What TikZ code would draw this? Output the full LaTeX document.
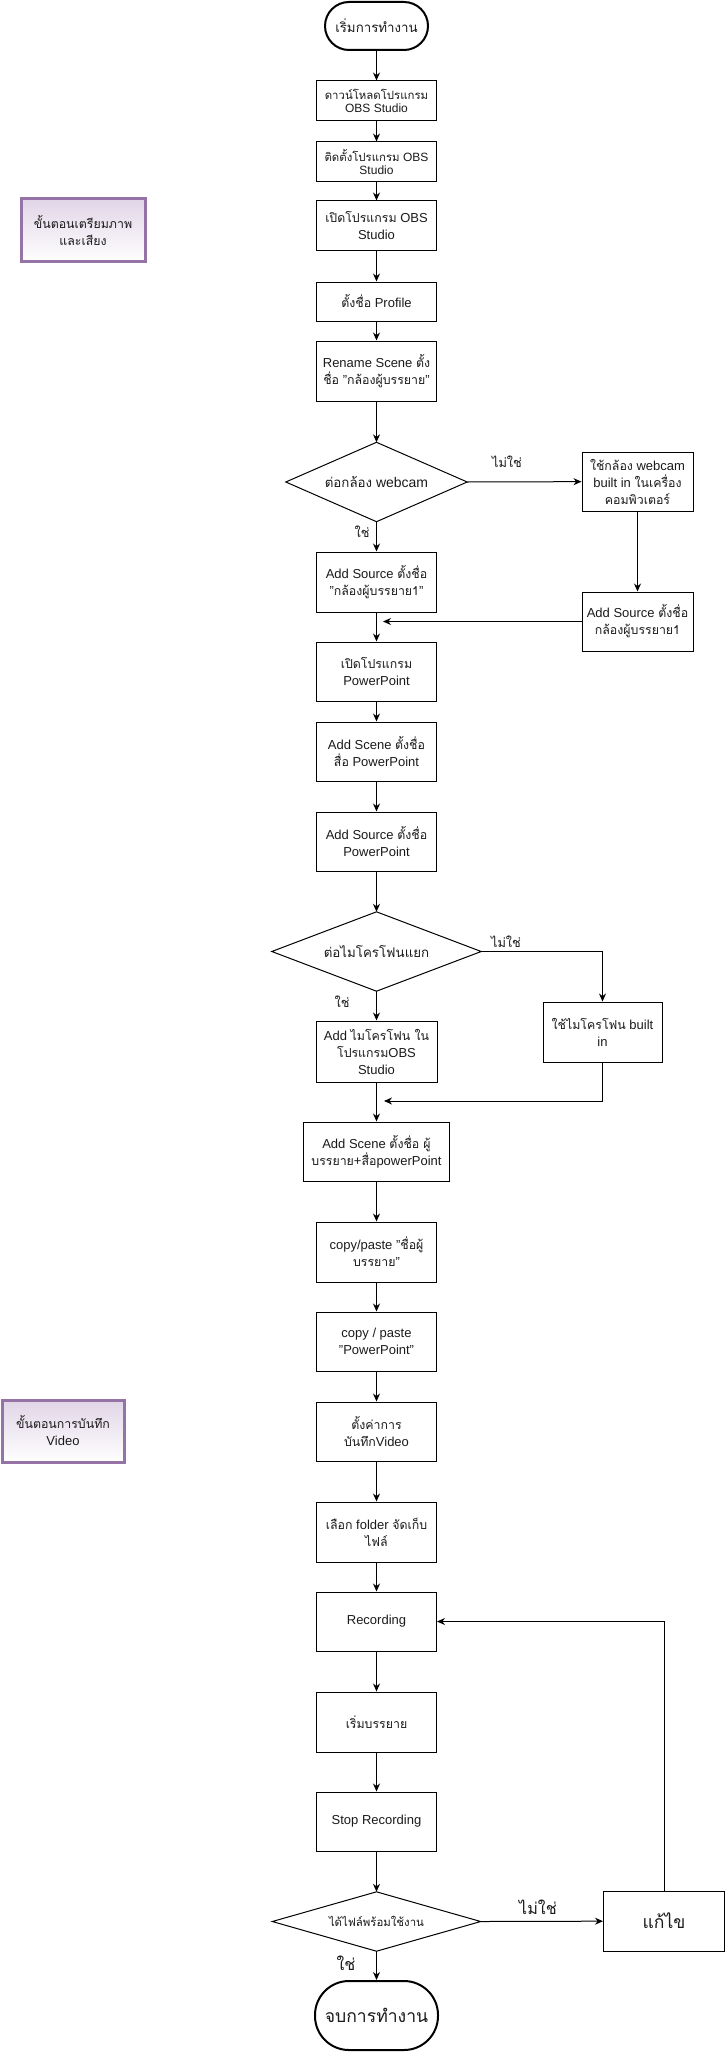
\documentclass[tikz,border=0pt]{standalone}
\usepackage{fontspec}
\setmainfont{Liberation Sans}
\newfontfamily\thaif[Script=Thai,Scale=0.95]{Loma}
\newcommand\thai[1]{{\thaif #1}}
\usetikzlibrary{shapes.geometric,arrows.meta}
\definecolor{purp}{HTML}{9673A6}
\definecolor{lav}{HTML}{E1D5E7}
\definecolor{txt}{HTML}{1A1A1A}
\begin{document}
\begin{tikzpicture}[x=1pt,y=-1pt,
  box/.style={draw, line width=1pt, minimum width=120pt, minimum height=60pt, inner sep=1pt, align=center, text=txt, font=\fontsize{13}{17}\selectfont},
  smallbox/.style={box, font=\fontsize{12}{13.5}\selectfont},
  term/.style={draw, line width=2pt, inner sep=1pt, align=center, text=txt},
  dia/.style={rectangle, inner sep=0pt, align=center, text=txt, font=\fontsize{14}{17}\selectfont},
  diaframe/.style={line width=1pt, line join=miter},
  arr/.style={-{Stealth[length=8pt,width=7pt]}, line width=1pt},
  lbl/.style={inner sep=0pt, text=txt, font=\fontsize{13.5}{15}\selectfont},
  biglbl/.style={inner sep=0pt, text=txt, font=\fontsize{17}{19}\selectfont},
  side/.style={draw=purp, line width=3pt, top color=lav, bottom color=white, align=center, inner sep=1pt, text=txt, font=\fontsize{13}{17}\selectfont}
]
\useasboundingbox (0,0) rectangle (725,2052);

% side boxes
\node[side, minimum width=124pt, minimum height=63pt] (s1) at (83,230.5) {\thai{ขั้นตอนเตรียมภาพ}\\\thai{และเสียง}};
\node[side, minimum width=122pt, minimum height=62pt] (s2) at (63,1431) {\thai{ขั้นตอนการบันทึก}\\Video};

% main column
\node[term, minimum width=103pt, minimum height=48pt, rounded corners=24pt, font=\fontsize{14}{16}\selectfont] (start) at (376.5,26) {\thai{เริ่มการทำงาน}};
\node[smallbox, minimum height=40pt] (b1) at (376.5,101) {\thai{ดาวน์โหลดโปรแกรม}\\OBS Studio};
\node[smallbox, minimum height=40pt] (b2) at (376.5,162) {\thai{ติดตั้งโปรแกรม} OBS\\Studio};
\node[box, minimum height=50pt] (b3) at (376.5,226) {\thai{เปิดโปรแกรม} OBS\\Studio};
\node[box, minimum height=39pt] (b4) at (376.5,301.5) {\thai{ตั้งชื่อ} Profile};
\node[box] (b5) at (376.5,371) {Rename Scene \thai{ตั้ง}\\\thai{ชื่อ} "\thai{กล้องผู้บรรยาย}"};
\node[dia, minimum width=181pt, minimum height=79pt] (d1) at (376.5,482) {\thai{ต่อกล้อง} webcam};
\draw[diaframe] (d1.north) -- (d1.east) -- (d1.south) -- (d1.west) -- cycle;
\node[box, minimum width=111pt, minimum height=59pt] (r1) at (637.5,481.5) {\thai{ใช้กล้อง} webcam\\built in \thai{ในเครื่อง}\\\thai{คอมพิวเตอร์}};
\node[box] (b6) at (376.5,582) {Add Source \thai{ตั้งชื่อ}\\"\thai{กล้องผู้บรรยาย1}"};
\node[box, minimum width=111pt, minimum height=59pt] (r2) at (637.5,621.5) {Add Source \thai{ตั้งชื่อ}\\\thai{กล้องผู้บรรยาย1}};
\node[box, minimum height=59pt] (b7) at (376.5,671.5) {\thai{เปิดโปรแกรม}\\PowerPoint};
\node[box, minimum height=59pt] (b8) at (376.5,751.5) {Add Scene \thai{ตั้งชื่อ}\\\thai{สื่อ} PowerPoint};
\node[box, minimum height=59pt] (b9) at (376.5,841.5) {Add Source \thai{ตั้งชื่อ}\\PowerPoint};
\node[dia, minimum width=209pt, minimum height=79pt] (d2) at (376.5,951.5) {\thai{ต่อไมโครโฟนแยก}};
\draw[diaframe] (d2.north) -- (d2.east) -- (d2.south) -- (d2.west) -- cycle;
\node[box, minimum width=119pt] (r3) at (602.5,1032) {\thai{ใช้ไมโครโฟน} built\\in};
\node[box, minimum width=121pt, minimum height=61pt] (b10) at (376.5,1051.5) {Add \thai{ไมโครโฟน ใน}\\\thai{โปรแกรม}OBS\\Studio};
\node[box, minimum width=146pt, minimum height=59pt] (b11) at (376.5,1151.5) {Add Scene \thai{ตั้งชื่อ ผู้}\\\thai{บรรยาย}+\thai{สื่อ}powerPoint};
\node[box] (b12) at (376.5,1252) {copy/paste "\thai{ชื่อผู้}\\\thai{บรรยาย}"};
\node[box, minimum height=59pt] (b13) at (376.5,1341.5) {copy / paste\\"PowerPoint"};
\node[box, minimum height=59pt] (b14) at (376.5,1431.5) {\thai{ตั้งค่าการ}\\\thai{บันทึก}Video};
\node[box] (b15) at (376.5,1532) {\thai{เลือก} folder \thai{จัดเก็บ}\\\thai{ไฟล์}};
\node[box, minimum height=59pt] (b16) at (376.5,1621.5) {Recording};
\node[box] (b17) at (376.5,1722) {\thai{เริ่มบรรยาย}};
\node[box, minimum height=59pt] (b18) at (376.5,1821.5) {Stop Recording};
\node[dia, minimum width=208pt, minimum height=59pt, font=\fontsize{12}{14}\selectfont] (d3) at (376.5,1921.5) {\thai{ได้ไฟล์พร้อมใช้งาน}};
\draw[diaframe] (d3.north) -- (d3.east) -- (d3.south) -- (d3.west) -- cycle;
\node[box, minimum width=121pt, font=\fontsize{18.5}{21}\selectfont] (fix) at (664,1921) {\thai{แก้ไข}};
\node[term, minimum width=123pt, minimum height=69pt, rounded corners=34pt, font=\fontsize{18.5}{21}\selectfont] (end) at (376.5,2015.5) {\thai{จบการทำงาน}};

% labels
\node[lbl] (l1) at (507,462) {\thai{ไม่ใช่}};
\node[lbl] (l2) at (362,532) {\thai{ใช่}};
\node[lbl] (l3) at (506,942) {\thai{ไม่ใช่}};
\node[lbl] (l4) at (342,1002) {\thai{ใช่}};
\node[biglbl] (l5) at (538,1907) {\thai{ไม่ใช่}};
\node[biglbl] (l6) at (346,1963) {\thai{ใช่}};

% joins
\coordinate (j1) at (383,621.5);
\coordinate (j2) at (384,1101);

% connectors
\draw[arr] (start) -- (b1);
\draw[arr] (b1) -- (b2);
\draw[arr] (b2) -- (b3);
\draw[arr] (b3) -- (b4);
\draw[arr] (b4) -- (b5);
\draw[arr] (b5) -- (d1);
\draw[arr] (d1.south) -- (b6);
\draw[arr] (d1.east) -- (r1);
\draw[arr] (r1) -- (r2);
\draw[arr] (r2.west) -- (j1);
\draw[arr] (b6) -- (b7);
\draw[arr] (b7) -- (b8);
\draw[arr] (b8) -- (b9);
\draw[arr] (b9) -- (d2);
\draw[arr] (d2.south) -- (b10);
\draw[arr] (d2.east) -| (r3.north);
\draw[arr] (r3.south) |- (j2);
\draw[arr] (b10) -- (b11);
\draw[arr] (b11) -- (b12);
\draw[arr] (b12) -- (b13);
\draw[arr] (b13) -- (b14);
\draw[arr] (b14) -- (b15);
\draw[arr] (b15) -- (b16);
\draw[arr] (b16) -- (b17);
\draw[arr] (b17) -- (b18);
\draw[arr] (b18) -- (d3);
\draw[arr] (d3.south) -- (end);
\draw[arr] (d3.east) -- (fix);
\draw[arr] (fix.north) |- (b16.east);
\end{tikzpicture}
\end{document}
